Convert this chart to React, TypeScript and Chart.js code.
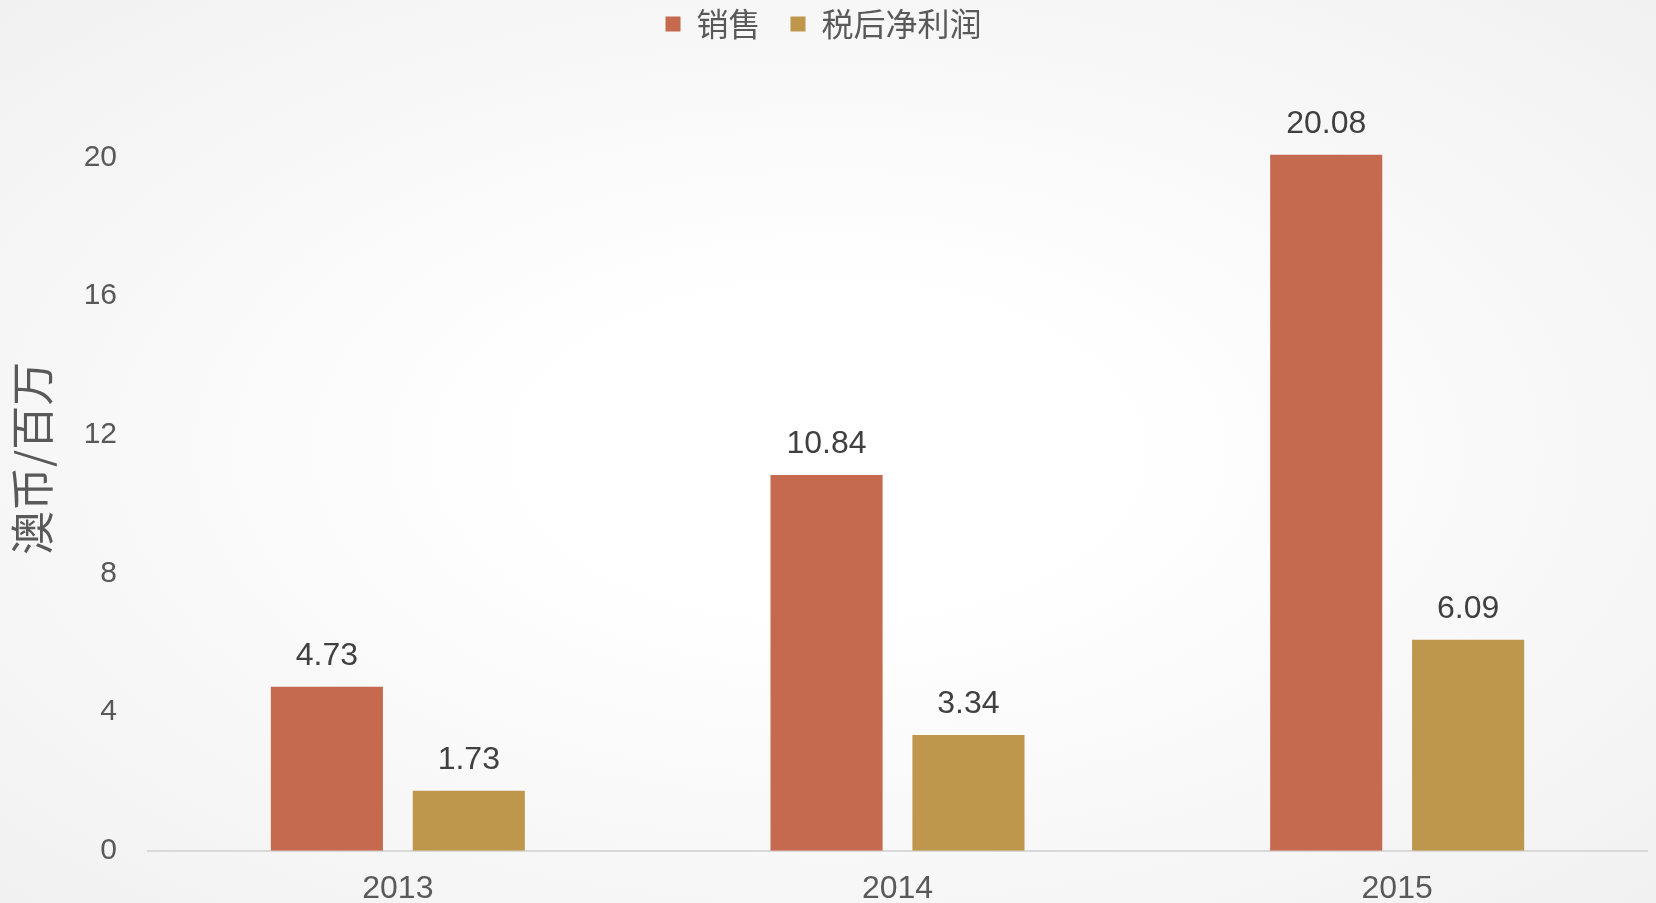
import React, { useEffect, useRef } from "react";
import { Chart, registerables } from "chart.js";

Chart.register(...registerables);

const categories = ["2013", "2014", "2015"];
const seriesNames = ["销售", "税后净利润"];
const salesValues = [4.73, 10.84, 20.08];
const profitValues = [1.73, 3.34, 6.09];
const seriesColors = ["#C5694F", "#BF974C"];
const yTickValues = [0, 4, 8, 12, 16, 20];
const yAxisMax = 23.1;
const yAxisTitle = "澳币/百万";

const LATIN = '"Liberation Sans", Arial, "Noto Sans CJK SC", sans-serif';
const CJK = '"Noto Sans CJK SC", "Microsoft YaHei", sans-serif';

const valueLabels = {
  id: "valueLabels",
  afterDatasetsDraw(chart: any) {
    const ctx = chart.ctx;
    ctx.save();
    ctx.font = `32px ${LATIN}`;
    ctx.fillStyle = "#404040";
    ctx.textAlign = "center";
    ctx.textBaseline = "middle";
    chart.data.datasets.forEach((ds: any, i: number) => {
      const meta = chart.getDatasetMeta(i);
      meta.data.forEach((el: any, j: number) => {
        ctx.fillText(Number(ds.data[j]).toFixed(2), el.x, el.y - 31);
      });
    });
    ctx.restore();
  },
};

// y-axis title, drawn rotated slightly below the axis centre as in the reference
const yTitle = {
  id: "yTitle",
  afterDraw(chart: any) {
    const ctx = chart.ctx;
    const yScale = chart.scales.y;
    const cy = (yScale.top + yScale.bottom) / 2 + 8;
    ctx.save();
    ctx.translate(32, cy);
    ctx.rotate(-Math.PI / 2);
    ctx.font = `44px ${CJK}`;
    ctx.fillStyle = "#595959";
    ctx.textAlign = "center";
    ctx.textBaseline = "middle";
    ctx.fillText(yAxisTitle, 0, 0);
    ctx.restore();
  },
};

const legendHeight = {
  id: "legendHeight",
  beforeUpdate(chart: any) {
    const lg = chart.legend;
    if (lg && !lg._patchedFit) {
      const orig = lg.fit;
      lg.fit = function () {
        orig.call(this);
        this.height = 72;
      };
      lg._patchedFit = true;
    }
  },
};

export default function App() {
  const canvasRef = useRef<HTMLCanvasElement | null>(null);

  useEffect(() => {
    if (!canvasRef.current) return;
    const chart = new Chart(canvasRef.current, {
      type: "bar",
      data: {
        labels: categories,
        datasets: [
          {
            label: seriesNames[0],
            data: salesValues,
            backgroundColor: seriesColors[0],
            categoryPercentage: 0.568,
            barPercentage: 0.79,
          },
          {
            label: seriesNames[1],
            data: profitValues,
            backgroundColor: seriesColors[1],
            categoryPercentage: 0.568,
            barPercentage: 0.79,
          },
        ],
      },
      options: {
        responsive: false,
        animation: false,
        devicePixelRatio: 1,
        layout: { padding: { left: 0, right: 9, top: -22, bottom: -25 } },
        plugins: {
          legend: {
            display: true,
            position: "top",
            labels: {
              font: { size: 32, family: CJK },
              color: "#595959",
              boxWidth: 15,
              boxHeight: 15,
              padding: 30,
            },
          },
          tooltip: { enabled: false },
        },
        scales: {
          x: {
            grid: { display: false, drawTicks: false },
            border: { display: true, color: "#D9D9D9", width: 2 },
            ticks: {
              font: { size: 32, family: LATIN, lineHeight: 1.1 },
              color: "#595959",
              padding: 21,
            },
          },
          y: {
            min: 0,
            max: yAxisMax,
            grid: { display: false, drawTicks: false },
            border: { display: false },
            afterBuildTicks: (scale: any) => {
              scale.ticks = yTickValues.map((v) => ({ value: v }));
            },
            afterFit: (scale: any) => {
              scale.width = 148;
            },
            ticks: {
              font: { size: 30, family: LATIN },
              color: "#595959",
              padding: 31,
            },
            title: { display: false },
          },
        },
      },
      plugins: [valueLabels, yTitle, legendHeight],
    } as any);
    return () => chart.destroy();
  }, []);

  return (
    <div
      style={{
        position: "fixed",
        left: 0,
        top: 0,
        width: 1656,
        height: 903,
        overflow: "hidden",
        background:
          "radial-gradient(ellipse at 50% 50%, #ffffff 0%, #ffffff 25%, #f1f1f1 100%)",
      }}
    >
      <canvas ref={canvasRef} width={1656} height={903} style={{ display: "block" }} />
    </div>
  );
}
